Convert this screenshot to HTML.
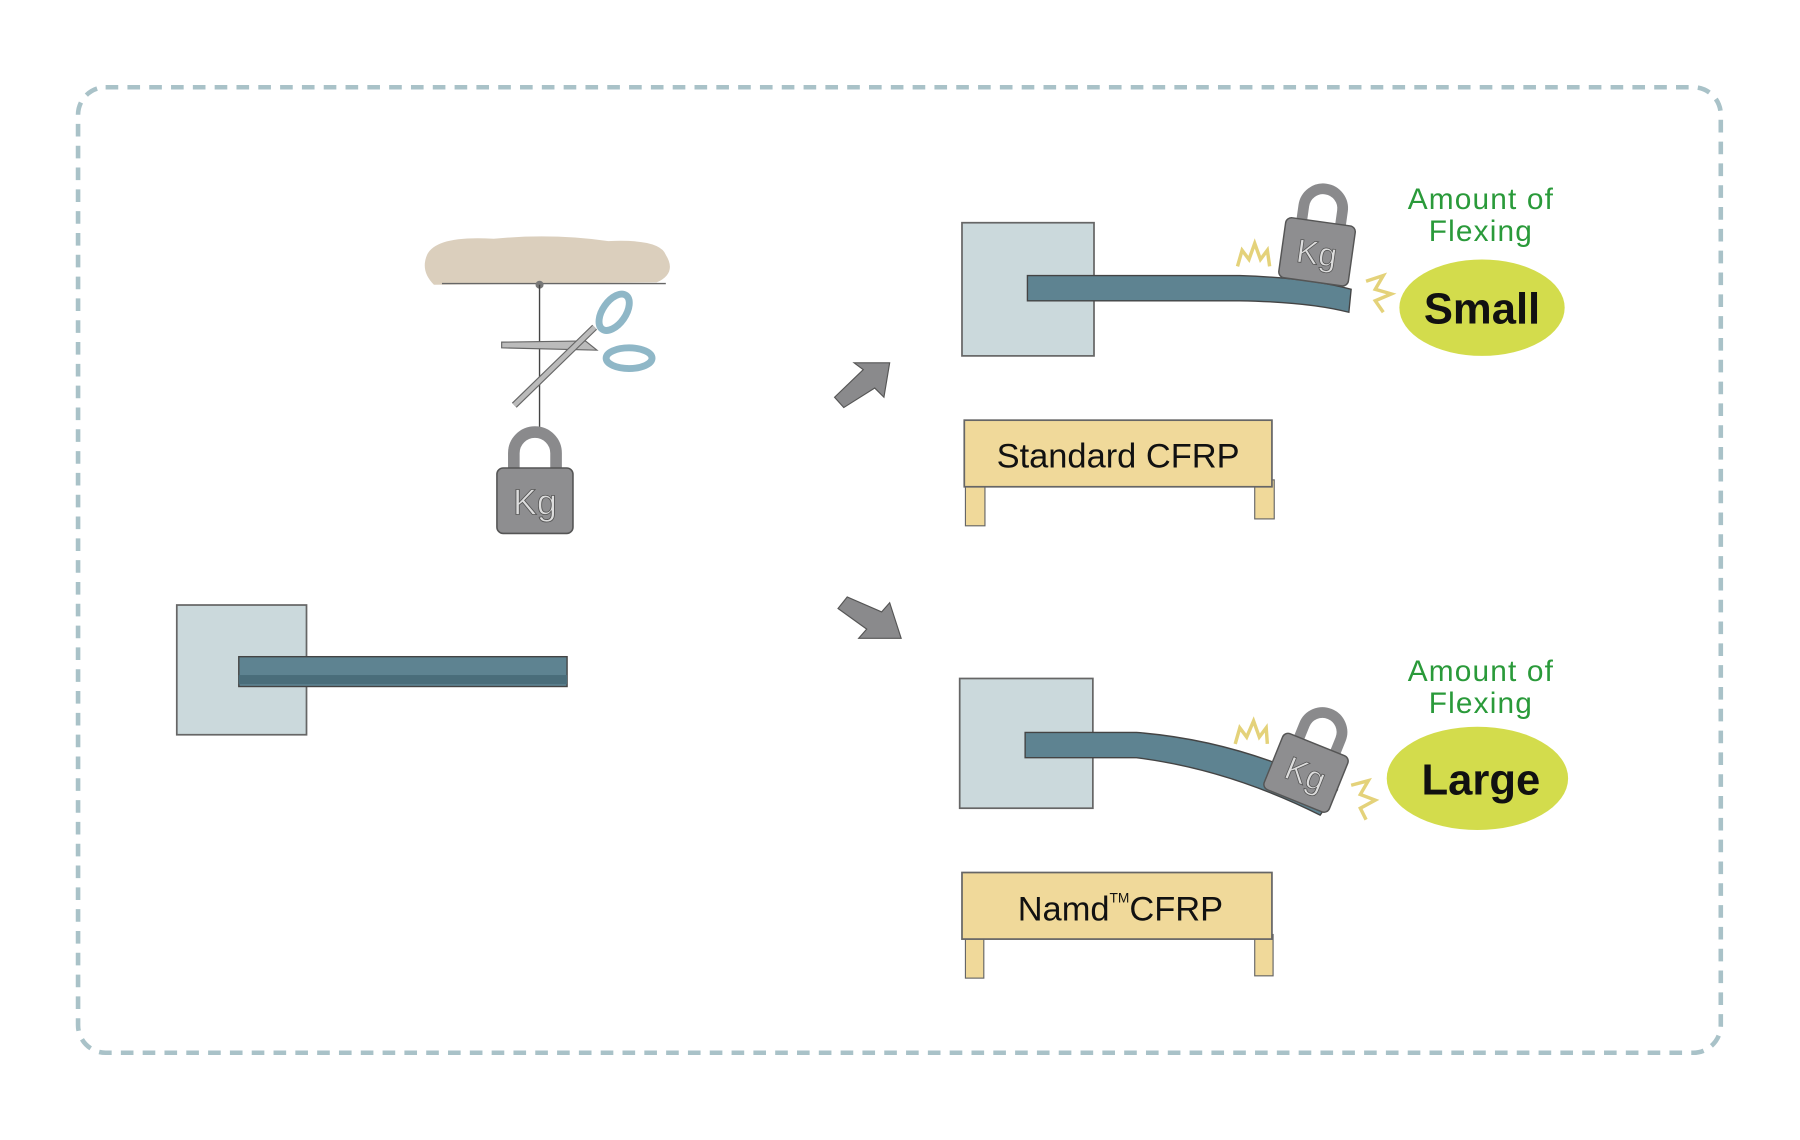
<!DOCTYPE html>
<html><head><meta charset="utf-8"><style>
html,body{margin:0;padding:0;background:#fff;}
svg{display:block;}
text{font-family:"Liberation Sans",sans-serif;}
</style></head><body>
<svg width="1800" height="1140" viewBox="0 0 1568 993" preserveAspectRatio="none" xmlns="http://www.w3.org/2000/svg">
<defs>
<g id="wt">
  <path d="M-20,-5 L-20,-22 A20,20 0 0 1 20,-22 L20,-5" fill="none" stroke="#8a8a8c" stroke-width="11"/>
  <rect x="-36" y="-8" width="72" height="62" rx="6" fill="#8e8e90" stroke="#555" stroke-width="1.5"/>
  <text x="0" y="36" text-anchor="middle" font-size="34" fill="#ddd" stroke="#555" stroke-width=".8">Kg</text>
</g>
</defs>
<rect x="68" y="76" width="1431" height="841" rx="24" fill="none" stroke="#a9c2c8" stroke-width="4" stroke-dasharray="11 8"/>

<path d="M372,222 Q380,205 430,208 Q480,203 530,210 Q575,208 580,222 Q590,238 572,246 L378,248 Q366,236 372,222Z" fill="#dbcfbd"/>
<line x1="385" y1="247" x2="580" y2="247" stroke="#666" stroke-width="1.2"/>
<circle cx="470" cy="248" r="3.5" fill="#777"/>
<line x1="470" y1="248" x2="470" y2="380" stroke="#444" stroke-width="1.2"/>
<polygon points="437,298 510,297 520,305 437,303" fill="#bbb" stroke="#666" stroke-width="1"/>
<line x1="448" y1="353" x2="518" y2="285" stroke="#666" stroke-width="6"/>
<line x1="448" y1="353" x2="518" y2="285" stroke="#bbb" stroke-width="4"/>
<ellipse cx="535" cy="272" rx="10" ry="18" transform="rotate(35 535 272)" fill="none" stroke="#8fb7c7" stroke-width="6"/>
<ellipse cx="548" cy="312" rx="20" ry="9" fill="none" stroke="#8fb7c7" stroke-width="6"/>
<g transform="translate(466 415) scale(0.92)"><use href="#wt"/></g>

<rect x="154" y="527" width="113" height="113" fill="#cbd9dc" stroke="#666" stroke-width="1.5"/>
<rect x="208" y="572" width="286" height="26" fill="#5e8391" stroke="#444" stroke-width="1.2"/>
<rect x="208" y="588" width="286" height="8" fill="#4a6d7a"/>

<path d="M735,355 L727,346 L752,322 L744,316 L775,316 L770,346 L762,338 Z" fill="#8a8a8c" stroke="#555" stroke-width="1"/>
<path d="M738,520 L730,530 L755,548 L748,556 L785,556 L775,525 L768,533 Z" fill="#8a8a8c" stroke="#555" stroke-width="1"/>

<rect x="838" y="194" width="115" height="116" fill="#cbd9dc" stroke="#666" stroke-width="1.5"/>
<path d="M895,240 L1080,240 Q1140,242 1177,252 L1175,272 Q1140,263 1080,262 L895,262 Z" fill="#5e8391" stroke="#444" stroke-width="1.2"/>
<g transform="translate(1150 200) scale(0.85) rotate(8)"><use href="#wt"/></g>
<path d="M1078,232 L1082,218 L1088,226 L1093,212 L1098,226 L1104,218 L1106,232" fill="none" stroke="#e4d27a" stroke-width="3"/>
<path d="M1190,245 L1205,240 L1198,252 L1212,256 L1198,262 L1205,272" fill="none" stroke="#e4d27a" stroke-width="3"/>
<text x="1290" y="182" text-anchor="middle" font-size="26" fill="#2a9a3a" letter-spacing="1">Amount of</text>
<text x="1290" y="210" text-anchor="middle" font-size="26" fill="#2a9a3a" letter-spacing="1">Flexing</text>
<ellipse cx="1291" cy="268" rx="72" ry="42" fill="#d3dc4c"/>
<text x="1291" y="282" text-anchor="middle" font-size="38" font-weight="bold" fill="#111">Small</text>
<rect x="841" y="420" width="17" height="38" fill="#f0d99a" stroke="#666"/>
<rect x="1093" y="418" width="17" height="34" fill="#f0d99a" stroke="#666"/>
<rect x="840" y="366" width="268" height="58" fill="#f0d99a" stroke="#666" stroke-width="1.5"/>
<text x="974" y="407" text-anchor="middle" font-size="30" fill="#111">Standard CFRP</text>

<rect x="836" y="591" width="116" height="113" fill="#cbd9dc" stroke="#666" stroke-width="1.5"/>
<path d="M893,638 L990,638 Q1080,645 1165,688 L1150,710 Q1070,670 990,660 L893,660 Z" fill="#5e8391" stroke="#444" stroke-width="1.2"/>
<g transform="translate(1145 655) scale(0.85) rotate(22)"><use href="#wt"/></g>
<path d="M1076,648 L1080,634 L1086,642 L1092,628 L1097,642 L1103,634 L1104,648" fill="none" stroke="#e4d27a" stroke-width="3"/>
<path d="M1177,684 L1192,680 L1185,692 L1198,697 L1185,704 L1190,714" fill="none" stroke="#e4d27a" stroke-width="3"/>
<text x="1290" y="593" text-anchor="middle" font-size="26" fill="#2a9a3a" letter-spacing="1">Amount of</text>
<text x="1290" y="621" text-anchor="middle" font-size="26" fill="#2a9a3a" letter-spacing="1">Flexing</text>
<ellipse cx="1287" cy="678" rx="79" ry="45" fill="#d3dc4c"/>
<text x="1290" y="692" text-anchor="middle" font-size="38" font-weight="bold" fill="#111">Large</text>
<rect x="841" y="814" width="16" height="38" fill="#f0d99a" stroke="#666"/>
<rect x="1093" y="814" width="16" height="36" fill="#f0d99a" stroke="#666"/>
<rect x="838" y="760" width="270" height="58" fill="#f0d99a" stroke="#666" stroke-width="1.5"/>
<text x="976" y="802" text-anchor="middle" font-size="30" fill="#111">Namd<tspan font-size="12" dy="-16">TM</tspan><tspan dy="16">CFRP</tspan></text>
</svg>
</body></html>
